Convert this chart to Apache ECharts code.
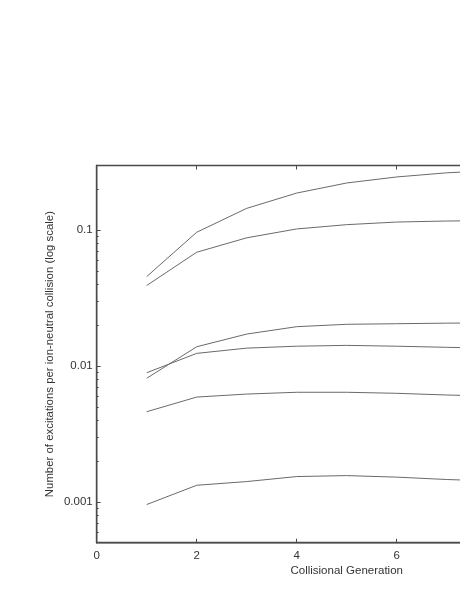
<!DOCTYPE html>
<html>
<head>
<meta charset="utf-8">
<script src="https://cdn.jsdelivr.net/npm/echarts@6/dist/echarts.min.js"></script>
<style>html,body{margin:0;padding:0;background:#fff;}#c{width:460px;height:595px;}</style>
</head>
<body>
<div id="c"></div>
<script>
const generations = [1, 2, 3, 4, 5, 6, 7, 8, 9, 10];
const seriesA = [0.0456, 0.0967, 0.145, 0.188, 0.223, 0.247, 0.265, 0.276, 0.284, 0.29];
const seriesB = [0.0392, 0.0689, 0.088, 0.1023, 0.110, 0.115, 0.117, 0.118, 0.119, 0.12];
const seriesC = [0.00813, 0.01387, 0.0172, 0.0195, 0.0203, 0.0205, 0.0207, 0.0208, 0.0209, 0.021];
const seriesD = [0.00893, 0.0124, 0.01355, 0.0140, 0.0142, 0.0140, 0.01374, 0.0135, 0.0133, 0.0131];
const seriesE = [0.00461, 0.00591, 0.00622, 0.00641, 0.00641, 0.0063, 0.00612, 0.0060, 0.0059, 0.0058];
const seriesF = [0.000955, 0.001324, 0.00141, 0.001535, 0.00156, 0.00152, 0.00146, 0.00142, 0.00139, 0.00136];
const yMajorTicks = [0.001, 0.01, 0.1];
const yMinorTicks = [0.0006, 0.0007, 0.0008, 0.0009,
  0.002, 0.003, 0.004, 0.005, 0.006, 0.007, 0.008, 0.009,
  0.02, 0.03, 0.04, 0.05, 0.06, 0.07, 0.08, 0.09, 0.2];
const xTicks = [0, 2, 4, 6, 8, 10];

const allSeries = [seriesA, seriesB, seriesC, seriesD, seriesE, seriesF];
const chart = echarts.init(document.getElementById('c'), null, {renderer: 'canvas'});
const axisColor = '#4a4a4a';
const textColor = '#333';
const font = 'Liberation Sans, Arial, Helvetica, sans-serif';
chart.setOption({
  animation: false,
  grid: {left: 96.7, top: 165.5, width: 500, height: 377.2, show: true, borderColor: axisColor, borderWidth: 1.4,
    backgroundColor: 'transparent', containLabel: false, outerBoundsMode: 'none'},
  xAxis: [{
    type: 'value', min: 0, max: 10, interval: 2,
    name: 'Collisional Generation', nameLocation: 'middle', nameGap: 22, nameMoveOverlap: false,
    nameTextStyle: {fontFamily: font, fontSize: 11.5, color: textColor},
    axisLine: {show: true, lineStyle: {color: axisColor, width: 1.4}},
    axisTick: {show: true, inside: true, length: 4, customValues: xTicks, lineStyle: {color: axisColor}},
    axisLabel: {fontFamily: font, fontSize: 11.5, color: textColor, margin: 7, customValues: xTicks},
    splitLine: {show: false}
  }, {
    type: 'value', min: 0, max: 10, interval: 2, position: 'top',
    axisLine: {show: false},
    axisTick: {show: true, inside: true, length: 4, customValues: xTicks, lineStyle: {color: axisColor}},
    axisLabel: {show: false},
    splitLine: {show: false}
  }],
  yAxis: [{
    type: 'log', min: 0.0005, max: 0.3, logBase: 10,
    name: 'Number of excitations per ion-neutral collision (log scale)',
    nameLocation: 'middle', nameGap: 41, nameMoveOverlap: false,
    nameTextStyle: {fontFamily: font, fontSize: 11.4, color: textColor},
    axisLine: {show: true, lineStyle: {color: axisColor, width: 1.4}},
    axisTick: {show: true, inside: true, length: 4, customValues: yMajorTicks, lineStyle: {color: axisColor}},
    axisLabel: {fontFamily: font, fontSize: 11.5, color: textColor, margin: 4, customValues: yMajorTicks,
      formatter: v => String(+v.toPrecision(3))},
    splitLine: {show: false}
  }, {
    type: 'log', min: 0.0005, max: 0.3, logBase: 10, position: 'left',
    axisLine: {show: false},
    axisTick: {show: true, inside: true, length: 2, customValues: yMinorTicks, lineStyle: {color: axisColor}},
    axisLabel: {show: false, customValues: yMinorTicks},
    splitLine: {show: false}
  }],
  series: allSeries.map(vals => ({
    type: 'line', xAxisIndex: 0, yAxisIndex: 0, symbol: 'none', silent: true,
    lineStyle: {color: '#6a6a6a', width: 1},
    data: generations.map((g, i) => [g, vals[i]])
  }))
});
</script>
</body>
</html>
